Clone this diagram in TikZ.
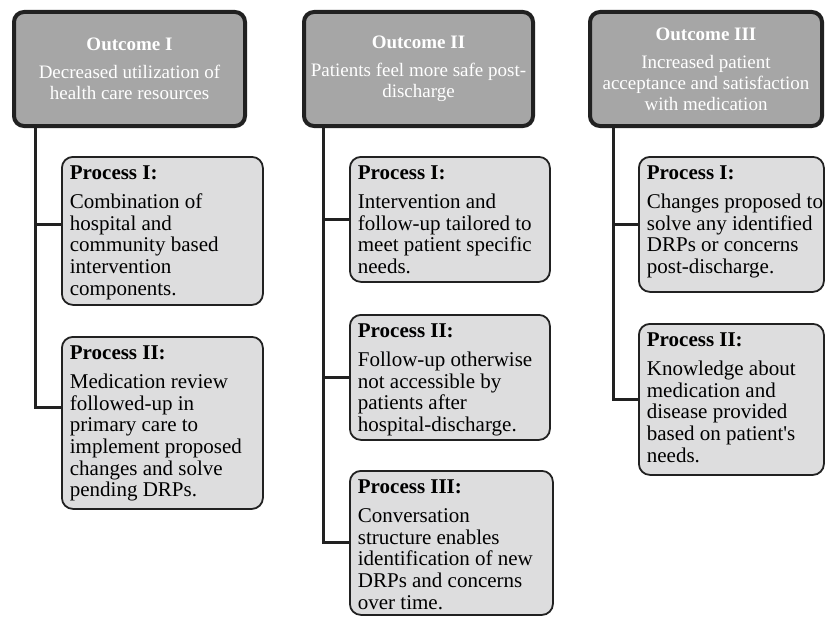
\documentclass[tikz,border=0pt]{standalone}
\usepackage{fontspec}
\setmainfont{Liberation Serif}
\usetikzlibrary{positioning,calc}

\definecolor{outfill}{RGB}{166,166,166}
\definecolor{procfill}{RGB}{221,221,222}
\definecolor{darkline}{RGB}{33,33,33}

% text of a process box: width, height (of the drawn box), title, lines
\newcommand{\procbox}[4]{\parbox[t][\dimexpr#2pt-14pt][t]{\dimexpr#1pt-16pt}{\begin{tabular}[t]{@{}l@{}}\textbf{#3}\\[8pt]#4\end{tabular}}}

\begin{document}
\begin{tikzpicture}[x=1pt, y=-1pt,
    outcome/.style={draw=darkline, line width=4pt, fill=outfill, rounded corners=10pt,
      minimum height=114pt, align=center, text=white, inner sep=0pt,
      font=\fontsize{19}{21}\selectfont},
    process/.style={draw=darkline, line width=1.8pt, fill=procfill, rounded corners=11pt,
      anchor=north west, inner xsep=8pt, inner ysep=7pt,
      font=\fontsize{21}{21.6}\selectfont},
    link/.style={draw=darkline, line width=3pt}]
  \useasboundingbox (0,0) rectangle (826,618);

  % outcomes
  \node (O1) [outcome, minimum width=231pt] at (129.5,69) {\textbf{Outcome I}\\[7pt]Decreased utilization of\\health care resources};
  \node (O2) [outcome, minimum width=229pt] at (418.5,69) {\textbf{Outcome II}\\[7pt]Patients feel more safe post-\\discharge};
  \node (O3) [outcome, minimum width=232pt] at (706,69) {\textbf{Outcome III}\\[7pt]Increased patient\\acceptance and satisfaction\\with medication};

  % processes
  \node (P11) [process] at (61,156) {\procbox{201}{148}{Process I:}{Combination of\\hospital and\\community based\\intervention\\components.}};
  \node (P12) [process] at (61,336) {\procbox{201}{172}{Process II:}{Medication review\\followed-up in\\primary care to\\implement proposed\\changes and solve\\pending DRPs.}};
  \node (P21) [process] at (349,156) {\procbox{200}{125}{Process I:}{Intervention and\\follow-up tailored to\\meet patient specific\\needs.}};
  \node (P22) [process] at (349,314) {\procbox{200}{125}{Process II:}{Follow-up otherwise\\not accessible by\\patients after\\hospital-discharge.}};
  \node (P23) [process] at (349,470) {\procbox{203}{144}{Process III:}{Conversation\\structure enables\\identification of new\\DRPs and concerns\\over time.}};
  \node (P31) [process] at (638,156) {\procbox{185}{135}{Process I:}{Changes proposed to\\solve any identified\\DRPs or concerns\\post-discharge.}};
  \node (P32) [process] at (638,323) {\procbox{185}{151}{Process II:}{Knowledge about\\medication and\\disease provided\\based on patient\textquotesingle s\\needs.}};

  % connectors
  \coordinate (T1) at ([xshift=23pt]O1.south west);
  \coordinate (T2) at ([xshift=21.5pt]O2.south west);
  \coordinate (T3) at ([xshift=25pt]O3.south west);
  \draw[link] (T1) |- ([yshift=6pt]P11.west);
  \draw[link] (T1) |- ([yshift=15pt]P12.west);
  \draw[link] (T2) |- (P21.west);
  \draw[link] (T2) |- (P22.west);
  \draw[link] (T2) |- (P23.west);
  \draw[link] (T3) |- (P31.west);
  \draw[link] (T3) |- (P32.west);
\end{tikzpicture}
\end{document}
